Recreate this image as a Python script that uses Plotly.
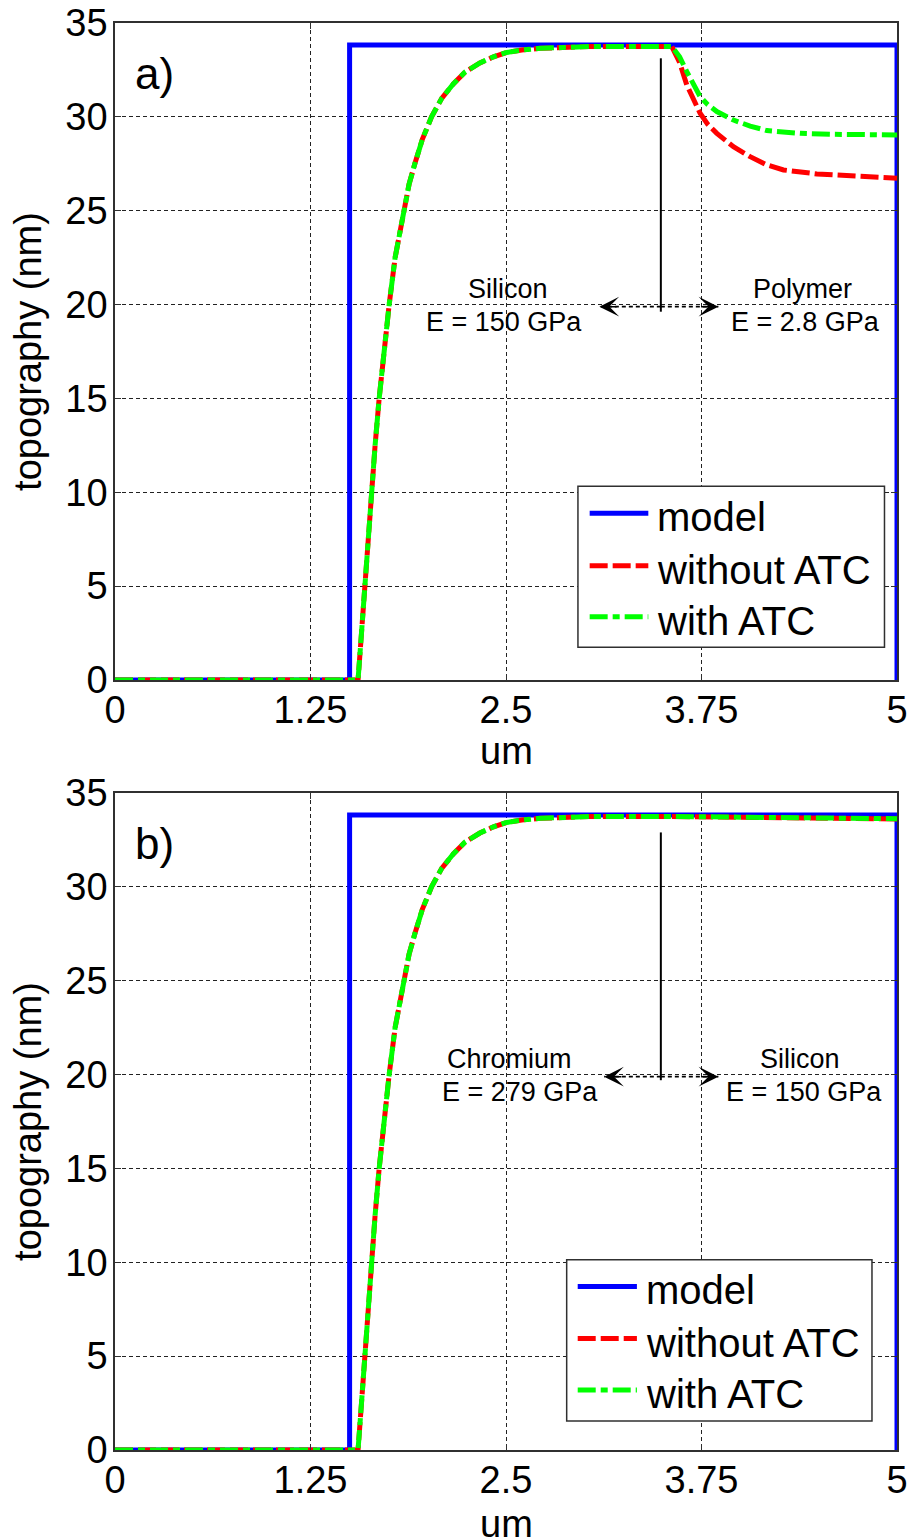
import plotly.graph_objects as go

# ---------------- data ----------------
# ideal step profile of the sample
model_x = [0, 1.5, 1.5, 5.0, 5.0]
model_y = [0, 0, 33.83, 33.83, 0]

# measured rise over the step edge (same in both scans)
rise_x = [0, 1.554, 1.576, 1.597, 1.619, 1.640, 1.663, 1.689, 1.719, 1.753,
          1.791, 1.843, 1.880, 1.917, 1.965, 2.024, 2.09, 2.163, 2.24, 2.333, 2.42,
          2.504, 2.60, 2.717, 2.85, 3.04, 3.56]
rise_y = [0, 0, 2.5, 5, 7.5, 10, 12.5, 15, 17.5, 20,
          22.5, 25, 26.4, 27.5, 28.8, 30, 31.0, 31.75, 32.4, 32.87, 33.2,
          33.43, 33.56, 33.65, 33.71, 33.75, 33.75]

# a) silicon -> polymer
a_noatc_x = [3.61, 3.656, 3.70, 3.741, 3.79, 3.848, 3.954, 4.061, 4.168, 4.274, 4.488, 4.701, 5.0]
a_noatc_y = [32.9, 31.70, 30.9, 30.19, 29.6, 29.12, 28.41, 27.88, 27.44, 27.17, 26.96, 26.85, 26.73]
a_atc_x = [3.61, 3.656, 3.70, 3.741, 3.79, 3.848, 3.954, 4.061, 4.168, 4.381, 4.594, 5.0]
a_atc_y = [33.2, 32.41, 31.7, 31.08, 30.65, 30.28, 29.83, 29.51, 29.27, 29.12, 29.07, 29.04]

# b) chromium -> silicon
b_noatc_x = [4.2, 5.0]
b_noatc_y = [33.68, 33.62]
b_atc_x = [4.2, 5.0]
b_atc_y = [33.69, 33.63]

x_ticks = [0, 1.25, 2.5, 3.75, 5]
x_tick_text = ["0", "1.25", "2.5", "3.75", "5"]
y_ticks = [0, 5, 10, 15, 20, 25, 30, 35]
x_label = "um"
y_label = "topography (nm)"

series_names = ["model", "without ATC", "with ATC"]
panel_labels = ["a)", "b)"]
left_material = [["Silicon", "E = 150 GPa"], ["Chromium", "E = 279 GPa"]]
right_material = [["Polymer", "E = 2.8 GPa"], ["Silicon", "E = 150 GPa"]]

# ---------------- styling ----------------
FONT = "Liberation Sans, Arial, Helvetica, sans-serif"
BLUE, RED, GREEN = "#0000ff", "#ff0000", "#00ff00"
RED_DASH = "18px,5px"
GREEN_DASH = "18px,5px,7px,5px"
LW = 5
AX = "#303030"

fig = go.Figure()

panels = [
    ("x", "y", a_noatc_x, a_noatc_y, a_atc_x, a_atc_y),
    ("x2", "y2", b_noatc_x, b_noatc_y, b_atc_x, b_atc_y),
]

for xa, ya, nx, ny, gx, gy in panels:
    fig.add_trace(go.Scatter(x=model_x, y=model_y, mode="lines", name=series_names[0],
                             line=dict(color=BLUE, width=LW), xaxis=xa, yaxis=ya,
                             showlegend=False))
    fig.add_trace(go.Scatter(x=rise_x + nx, y=rise_y + ny, mode="lines", name=series_names[1],
                             line=dict(color=RED, width=LW, dash=RED_DASH),
                             xaxis=xa, yaxis=ya, showlegend=False))
    fig.add_trace(go.Scatter(x=rise_x + gx, y=rise_y + gy, mode="lines", name=series_names[2],
                             line=dict(color=GREEN, width=LW, dash=GREEN_DASH),
                             xaxis=xa, yaxis=ya, showlegend=False))

axis_common = dict(
    showline=True, linecolor=AX, linewidth=1.5, mirror="ticks",
    ticks="inside", ticklen=6, tickcolor=AX, tickwidth=1.2,
    showgrid=True, gridcolor="#222222", gridwidth=1.2, griddash="4px,3px",
    zeroline=False, automargin=False,
    tickfont=dict(family=FONT, size=38, color="black"),
)
x_common = dict(axis_common, domain=[0, 1], range=[0, 5],
                tickvals=x_ticks, ticktext=x_tick_text, ticklabelstandoff=-4)
y_common = dict(axis_common, range=[0, 35], tickvals=y_ticks, ticklabelstandoff=-2,
                title=dict(text=y_label, font=dict(size=38), standoff=12))

top_dom = [0.5396, 1.0]
bot_dom = [0.0, 0.4604]

fig.update_layout(
    width=914, height=1538,
    margin=dict(l=115, r=17, t=23, b=88),
    paper_bgcolor="white", plot_bgcolor="white",
    font=dict(family=FONT, color="black"),
    showlegend=False,
    xaxis=dict(x_common, anchor="y"),
    yaxis=dict(y_common, domain=top_dom, anchor="x"),
    xaxis2=dict(x_common, anchor="y2"),
    yaxis2=dict(y_common, domain=bot_dom, anchor="x2"),
)

# ---------------- boundary marker, arrows and material labels ----------------
marker_x = 3.49
marker_top = [33.12, 32.9]
marker_bottom = [19.62, 19.7]
arrow_y = 19.89
arrow_left = [3.097, 3.127]
arrow_right = [3.858, 3.858]
left_text_x = [[2.512, 2.487], [2.525, 2.589]]
right_text_x = [[4.397, 4.418], [4.381, 4.407]]
text_y = [20.83, 19.08]
x_title_shift = [-71, -74]

shapes = []
annotations = []
for i, (xa, ya) in enumerate([("x", "y"), ("x2", "y2")]):
    # x-axis title below the tick labels
    annotations.append(dict(xref=xa + " domain", yref=ya + " domain", x=0.5, y=0,
                            yshift=x_title_shift[i], text=x_label, showarrow=False,
                            xanchor="center", yanchor="middle",
                            font=dict(family=FONT, size=38, color="black")))
    shapes.append(dict(type="line", xref=xa, yref=ya, x0=marker_x, x1=marker_x,
                       y0=marker_bottom[i], y1=marker_top[i],
                       line=dict(color="black", width=2)))
    for tip in (arrow_left[i], arrow_right[i]):
        shapes.append(dict(type="line", xref=xa, yref=ya, x0=marker_x, x1=tip,
                           y0=arrow_y, y1=arrow_y,
                           line=dict(color="black", width=1.6, dash="4px,3px")))
        back = 0.12 if tip < marker_x else -0.12
        annotations.append(dict(xref=xa, yref=ya, axref=xa, ayref=ya,
                                x=tip, y=arrow_y, ax=tip + back, ay=arrow_y,
                                text="", showarrow=True, arrowhead=3,
                                arrowsize=2.2, arrowwidth=1.5, arrowcolor="black"))
    for j in range(2):
        annotations.append(dict(xref=xa, yref=ya, x=left_text_x[i][j], y=text_y[j],
                                text=left_material[i][j], showarrow=False,
                                xanchor="center", yanchor="middle",
                                font=dict(family=FONT, size=27, color="black")))
        annotations.append(dict(xref=xa, yref=ya, x=right_text_x[i][j], y=text_y[j],
                                text=right_material[i][j], showarrow=False,
                                xanchor="center", yanchor="middle",
                                font=dict(family=FONT, size=27, color="black")))
    annotations.append(dict(xref=xa, yref=ya, x=0.25, y=32.3, text=panel_labels[i],
                            showarrow=False, xanchor="center", yanchor="middle",
                            font=dict(family=FONT, size=44, color="black")))

# ---------------- legend boxes (axis-domain coordinates) ----------------
legend_boxes = [
    dict(xa="x domain", ya="y domain", x0=0.592, x1=0.984, y0=0.050, y1=0.295,
         lx0=0.607, lx1=0.682, tx=0.690, ly=[0.2537, 0.174, 0.0964]),
    dict(xa="x2 domain", ya="y2 domain", x0=0.5776, x1=0.968, y0=0.0441, y1=0.2895,
         lx0=0.5917, lx1=0.6674, tx=0.676, ly=[0.249, 0.1696, 0.0913]),
]
styles = [dict(color=BLUE, width=LW), dict(color=RED, width=LW, dash=RED_DASH),
          dict(color=GREEN, width=LW, dash=GREEN_DASH)]
for lb in legend_boxes:
    shapes.append(dict(type="rect", xref=lb["xa"], yref=lb["ya"], x0=lb["x0"], x1=lb["x1"],
                       y0=lb["y0"], y1=lb["y1"], fillcolor="white", layer="above",
                       line=dict(color=AX, width=1.5)))
    for k, name in enumerate(series_names):
        shapes.append(dict(type="line", xref=lb["xa"], yref=lb["ya"], x0=lb["lx0"],
                           x1=lb["lx1"], y0=lb["ly"][k], y1=lb["ly"][k], layer="above",
                           line=styles[k]))
        annotations.append(dict(xref=lb["xa"], yref=lb["ya"], x=lb["tx"], y=lb["ly"][k] - 0.006,
                                text=name, showarrow=False, xanchor="left",
                                yanchor="middle",
                                font=dict(family=FONT, size=40, color="black")))

fig.update_layout(shapes=shapes, annotations=annotations)

fig.write_html("out.html")
